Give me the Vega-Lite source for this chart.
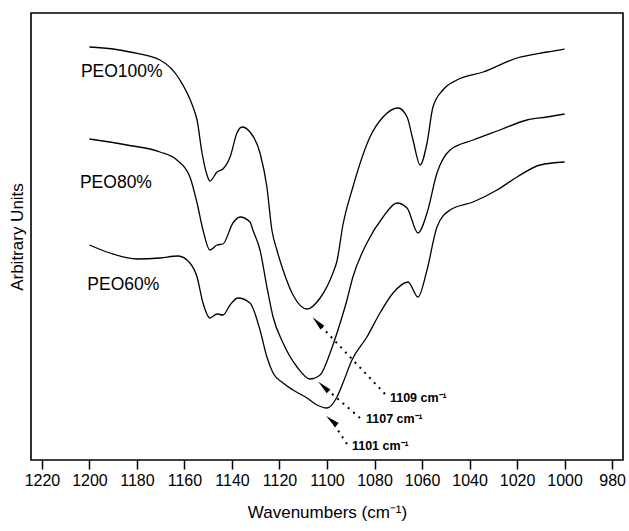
{
  "$schema": "https://vega.github.io/schema/vega-lite/v6.json",
  "width": 592,
  "height": 447,
  "autosize": {"type": "none"},
  "padding": {"left": 31, "top": 13, "right": 6, "bottom": 71},
  "background": "white",
  "config": {
    "view": {"stroke": "black", "strokeWidth": 1.6},
    "font": "Liberation Sans",
    "axis": {"labelFont": "Liberation Sans", "titleFont": "Liberation Sans", "titleFontWeight": "normal", "labelColor": "black", "titleColor": "black"}
  },
  "datasets": {
    "spectra": [
      {"sample": "PEO100%", "wn": 1200, "level": 406},
      {"sample": "PEO100%", "wn": 1190, "level": 404},
      {"sample": "PEO100%", "wn": 1183, "level": 401},
      {"sample": "PEO100%", "wn": 1170.3, "level": 393},
      {"sample": "PEO100%", "wn": 1161.9, "level": 373},
      {"sample": "PEO100%", "wn": 1156.4, "level": 346},
      {"sample": "PEO100%", "wn": 1154.7, "level": 333},
      {"sample": "PEO100%", "wn": 1152.6, "level": 300},
      {"sample": "PEO100%", "wn": 1150.5, "level": 278},
      {"sample": "PEO100%", "wn": 1149.3, "level": 272},
      {"sample": "PEO100%", "wn": 1146.3, "level": 281},
      {"sample": "PEO100%", "wn": 1143.8, "level": 284},
      {"sample": "PEO100%", "wn": 1140.8, "level": 296},
      {"sample": "PEO100%", "wn": 1137.9, "level": 320},
      {"sample": "PEO100%", "wn": 1135.8, "level": 326},
      {"sample": "PEO100%", "wn": 1132.4, "level": 321},
      {"sample": "PEO100%", "wn": 1128.2, "level": 300},
      {"sample": "PEO100%", "wn": 1125.3, "level": 266},
      {"sample": "PEO100%", "wn": 1123.2, "level": 223},
      {"sample": "PEO100%", "wn": 1121.1, "level": 203},
      {"sample": "PEO100%", "wn": 1118.5, "level": 183},
      {"sample": "PEO100%", "wn": 1114.3, "level": 158},
      {"sample": "PEO100%", "wn": 1108.4, "level": 144},
      {"sample": "PEO100%", "wn": 1102.9, "level": 155},
      {"sample": "PEO100%", "wn": 1097.5, "level": 180},
      {"sample": "PEO100%", "wn": 1095.8, "level": 192},
      {"sample": "PEO100%", "wn": 1093.3, "level": 228},
      {"sample": "PEO100%", "wn": 1089.1, "level": 266},
      {"sample": "PEO100%", "wn": 1081.9, "level": 316},
      {"sample": "PEO100%", "wn": 1076.4, "level": 336},
      {"sample": "PEO100%", "wn": 1070.1, "level": 345},
      {"sample": "PEO100%", "wn": 1066.3, "level": 336},
      {"sample": "PEO100%", "wn": 1063.8, "level": 313},
      {"sample": "PEO100%", "wn": 1060.8, "level": 288},
      {"sample": "PEO100%", "wn": 1057.9, "level": 310},
      {"sample": "PEO100%", "wn": 1055.4, "level": 346},
      {"sample": "PEO100%", "wn": 1051.2, "level": 363},
      {"sample": "PEO100%", "wn": 1045.3, "level": 373},
      {"sample": "PEO100%", "wn": 1034.3, "level": 381},
      {"sample": "PEO100%", "wn": 1020.0, "level": 395},
      {"sample": "PEO100%", "wn": 1007.4, "level": 401},
      {"sample": "PEO100%", "wn": 1000, "level": 404},

      {"sample": "PEO80%", "wn": 1200, "level": 314},
      {"sample": "PEO80%", "wn": 1184.2, "level": 308},
      {"sample": "PEO80%", "wn": 1170.3, "level": 301},
      {"sample": "PEO80%", "wn": 1163.2, "level": 293},
      {"sample": "PEO80%", "wn": 1157.7, "level": 276},
      {"sample": "PEO80%", "wn": 1154.7, "level": 250},
      {"sample": "PEO80%", "wn": 1152.2, "level": 223},
      {"sample": "PEO80%", "wn": 1149.3, "level": 203},
      {"sample": "PEO80%", "wn": 1146.3, "level": 208},
      {"sample": "PEO80%", "wn": 1143.8, "level": 209},
      {"sample": "PEO80%", "wn": 1139.6, "level": 230},
      {"sample": "PEO80%", "wn": 1136.6, "level": 236},
      {"sample": "PEO80%", "wn": 1132.4, "level": 231},
      {"sample": "PEO80%", "wn": 1131.2, "level": 223},
      {"sample": "PEO80%", "wn": 1128.2, "level": 203},
      {"sample": "PEO80%", "wn": 1125.3, "level": 166},
      {"sample": "PEO80%", "wn": 1122.7, "level": 136},
      {"sample": "PEO80%", "wn": 1118.5, "level": 110},
      {"sample": "PEO80%", "wn": 1112.6, "level": 86},
      {"sample": "PEO80%", "wn": 1107.2, "level": 74},
      {"sample": "PEO80%", "wn": 1102.9, "level": 78},
      {"sample": "PEO80%", "wn": 1098.7, "level": 100},
      {"sample": "PEO80%", "wn": 1095.8, "level": 120},
      {"sample": "PEO80%", "wn": 1091.6, "level": 153},
      {"sample": "PEO80%", "wn": 1089.1, "level": 176},
      {"sample": "PEO80%", "wn": 1083.2, "level": 210},
      {"sample": "PEO80%", "wn": 1076.4, "level": 236},
      {"sample": "PEO80%", "wn": 1070.5, "level": 250},
      {"sample": "PEO80%", "wn": 1066.3, "level": 245},
      {"sample": "PEO80%", "wn": 1061.7, "level": 220},
      {"sample": "PEO80%", "wn": 1057.9, "level": 240},
      {"sample": "PEO80%", "wn": 1053.7, "level": 280},
      {"sample": "PEO80%", "wn": 1048.2, "level": 303},
      {"sample": "PEO80%", "wn": 1038.5, "level": 313},
      {"sample": "PEO80%", "wn": 1027.2, "level": 323},
      {"sample": "PEO80%", "wn": 1015.8, "level": 333},
      {"sample": "PEO80%", "wn": 1007.4, "level": 336},
      {"sample": "PEO80%", "wn": 1000, "level": 339},

      {"sample": "PEO60%", "wn": 1200, "level": 208},
      {"sample": "PEO60%", "wn": 1191.4, "level": 200},
      {"sample": "PEO60%", "wn": 1180.0, "level": 194},
      {"sample": "PEO60%", "wn": 1170.3, "level": 195},
      {"sample": "PEO60%", "wn": 1162.7, "level": 197},
      {"sample": "PEO60%", "wn": 1157.7, "level": 190},
      {"sample": "PEO60%", "wn": 1154.7, "level": 176},
      {"sample": "PEO60%", "wn": 1152.2, "level": 150},
      {"sample": "PEO60%", "wn": 1149.3, "level": 135},
      {"sample": "PEO60%", "wn": 1146.3, "level": 139},
      {"sample": "PEO60%", "wn": 1143.8, "level": 138},
      {"sample": "PEO60%", "wn": 1140.8, "level": 148},
      {"sample": "PEO60%", "wn": 1137.5, "level": 155},
      {"sample": "PEO60%", "wn": 1132.4, "level": 150},
      {"sample": "PEO60%", "wn": 1128.2, "level": 123},
      {"sample": "PEO60%", "wn": 1125.3, "level": 96},
      {"sample": "PEO60%", "wn": 1122.7, "level": 80},
      {"sample": "PEO60%", "wn": 1118.5, "level": 70},
      {"sample": "PEO60%", "wn": 1114.3, "level": 63},
      {"sample": "PEO60%", "wn": 1108.4, "level": 55},
      {"sample": "PEO60%", "wn": 1104.2, "level": 48},
      {"sample": "PEO60%", "wn": 1100.0, "level": 45},
      {"sample": "PEO60%", "wn": 1095.8, "level": 56},
      {"sample": "PEO60%", "wn": 1093.3, "level": 70},
      {"sample": "PEO60%", "wn": 1089.5, "level": 93},
      {"sample": "PEO60%", "wn": 1083.2, "level": 116},
      {"sample": "PEO60%", "wn": 1077.7, "level": 140},
      {"sample": "PEO60%", "wn": 1072.2, "level": 160},
      {"sample": "PEO60%", "wn": 1065.9, "level": 171},
      {"sample": "PEO60%", "wn": 1061.7, "level": 156},
      {"sample": "PEO60%", "wn": 1057.9, "level": 183},
      {"sample": "PEO60%", "wn": 1053.7, "level": 226},
      {"sample": "PEO60%", "wn": 1048.2, "level": 243},
      {"sample": "PEO60%", "wn": 1038.5, "level": 251},
      {"sample": "PEO60%", "wn": 1028.4, "level": 263},
      {"sample": "PEO60%", "wn": 1020.0, "level": 276},
      {"sample": "PEO60%", "wn": 1010.3, "level": 288},
      {"sample": "PEO60%", "wn": 1000, "level": 291}
    ],
    "labels": [
      {"text": "PEO100%", "wn": 1203.6, "level": 381},
      {"text": "PEO80%", "wn": 1204.0, "level": 270},
      {"text": "PEO60%", "wn": 1200.9, "level": 168}
    ],
    "arrows": [
      {"peak": "1109", "label": "1109 cm⁻¹", "tail_wn": 1075.6, "tail_level": 59, "head_wn": 1104.0, "head_level": 130.5, "text_wn": 1073.5, "text_level": 55},
      {"peak": "1107", "label": "1107 cm⁻¹", "tail_wn": 1086.1, "tail_level": 35, "head_wn": 1101.5, "head_level": 66.5, "text_wn": 1083.6, "text_level": 34},
      {"peak": "1101", "label": "1101 cm⁻¹", "tail_wn": 1091.6, "tail_level": 9, "head_wn": 1098.1, "head_level": 32.5, "text_wn": 1089.5, "text_level": 7}
    ]
  },
  "layer": [
    {
      "data": {"name": "spectra"},
      "mark": {"type": "line", "color": "black", "strokeWidth": 1.3, "interpolate": "monotone"},
      "encoding": {
        "x": {
          "field": "wn", "type": "quantitative",
          "scale": {"domain": [975.4, 1224.6], "reverse": true, "nice": false, "zero": false},
          "axis": {
            "title": "Wavenumbers (cm⁻¹)",
            "values": [980, 990, 1000, 1010, 1020, 1030, 1040, 1050, 1060, 1070, 1080, 1090, 1100, 1110, 1120, 1130, 1140, 1150, 1160, 1170, 1180, 1190, 1200, 1210, 1220],
            "labelExpr": "datum.value % 20 === 0 ? datum.label : ''",
            "format": "d",
            "grid": false,
            "domain": false,
            "ticks": true,
            "tickColor": "black",
            "tickWidth": 1.5,
            "tickSize": {"condition": {"test": "datum.value % 20 === 0", "value": 9}, "value": 5},
            "labelFontSize": 16,
            "labelPadding": 3,
            "labelFlush": false,
            "labelOverlap": false,
            "titleFontSize": 17,
            "titlePadding": 16
          }
        },
        "y": {
          "field": "level", "type": "quantitative",
          "scale": {"domain": [-7, 440], "nice": false, "zero": false},
          "axis": {
            "title": "Arbitrary Units",
            "labels": false, "ticks": false, "domain": false, "grid": false,
            "titleFontSize": 17,
            "titlePadding": 5
          }
        },
        "detail": {"field": "sample", "type": "nominal"}
      }
    },
    {
      "data": {"name": "labels"},
      "mark": {"type": "text", "align": "left", "baseline": "middle", "fontSize": 17.5, "color": "black"},
      "encoding": {
        "x": {"field": "wn", "type": "quantitative"},
        "y": {"field": "level", "type": "quantitative"},
        "text": {"field": "text"}
      }
    },
    {
      "data": {"name": "arrows"},
      "mark": {"type": "rule", "color": "black", "strokeWidth": 2, "strokeDash": [2, 5]},
      "encoding": {
        "x": {"field": "tail_wn", "type": "quantitative"},
        "y": {"field": "tail_level", "type": "quantitative"},
        "x2": {"field": "head_wn"},
        "y2": {"field": "head_level"}
      }
    },
    {
      "data": {"name": "arrows"},
      "mark": {"type": "point", "shape": "M0,-1L0.38,1L-0.38,1Z", "filled": true, "color": "black", "opacity": 1, "size": 200},
      "encoding": {
        "x": {"field": "head_wn", "type": "quantitative"},
        "y": {"field": "head_level", "type": "quantitative"},
        "angle": {"field": "peak", "type": "nominal", "scale": {"domain": ["1109", "1107", "1101"], "range": [316.5, 310.5, 325.8]}, "legend": null}
      }
    },
    {
      "data": {"name": "arrows"},
      "mark": {"type": "text", "align": "left", "baseline": "middle", "fontSize": 12.5, "fontWeight": "bold", "color": "black"},
      "encoding": {
        "x": {"field": "text_wn", "type": "quantitative"},
        "y": {"field": "text_level", "type": "quantitative"},
        "text": {"field": "label"}
      }
    }
  ]
}
